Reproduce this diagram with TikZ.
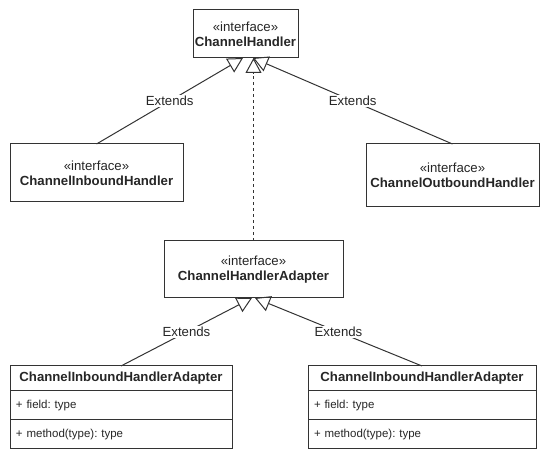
\documentclass[tikz,border=0pt]{standalone}
\usepackage{fontspec}
\setmainfont{Liberation Sans}
\usetikzlibrary{arrows.meta,positioning}
\frenchspacing

\begin{document}
\begin{tikzpicture}[x=1pt,y=-1pt,
    every node/.style={font=\fontsize{13.2}{15}\selectfont, text=black!85, inner sep=0pt, outer sep=0pt},
    iface/.style={draw=black!80, line width=1pt, align=center},
    cname/.style={draw=black!80, line width=1pt, minimum height=25pt},
    member/.style={draw=black!80, line width=1pt, minimum height=29pt, inner xsep=6pt, align=left, font=\fontsize{11.5}{14}\selectfont},
    ext/.style={draw=black!80, line width=1pt, -{Triangle[open,length=15pt,width=16pt]}},
    lbl/.style={fill=white, inner sep=1.5pt}]
    \useasboundingbox (0,0) rectangle (550,462);
    \node[iface, minimum width=105pt, minimum height=48pt] (ch) at (245.5,34) {«interface»\\\textbf{ChannelHandler}};
    \node[iface, minimum width=173pt, minimum height=58pt] (inb) at (96.5,173) {«interface»\\\textbf{ChannelInboundHandler}};
    \node[iface, minimum width=173pt, minimum height=63pt] (outb) at (452.5,175.5) {«interface»\\\textbf{ChannelOutboundHandler}};
    \node[iface, minimum width=179pt, minimum height=57pt] (cha) at (253.5,269.5) {«interface»\\\textbf{ChannelHandlerAdapter}};
    \node[cname, minimum width=222pt] (cia1) at (121,378.5) {\textbf{ChannelInboundHandlerAdapter}};
    \node[member, text width=210pt, below=0pt of cia1] (cia1f) {+ field: type};
    \node[member, text width=210pt, below=0pt of cia1f] (cia1m) {+ method(type): type};
    \node[cname, minimum width=228pt] (cia2) at (422,378.5) {\textbf{ChannelInboundHandlerAdapter}};
    \node[member, text width=216pt, below=0pt of cia2] (cia2f) {+ field: type};
    \node[member, text width=216pt, below=0pt of cia2f] (cia2m) {+ method(type): type};
    \draw[ext] (inb.north) -- node[lbl] (e1) {Extends} ([xshift=-2.5pt]ch.south);
    \draw[ext] (outb.north) -- node[lbl] (e2) {Extends} ([xshift=7.5pt]ch.south);
    \draw[ext, dash pattern=on 3pt off 3pt] (cha.north) -- (cha.north |- ch.south);
    \draw[ext] (cia1.north) -- node[lbl] (e3) {Extends} ([xshift=-1.5pt]cha.south);
    \draw[ext] (cia2.north) -- node[lbl] (e4) {Extends} ([xshift=1.5pt]cha.south);
\end{tikzpicture}
\end{document}
